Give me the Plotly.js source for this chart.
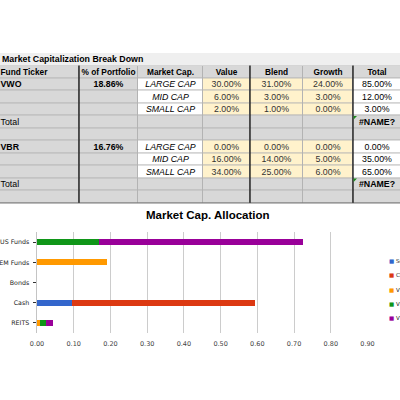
<!DOCTYPE html>
<html>
<head>
<meta charset="utf-8">
<script src="https://cdn.plot.ly/plotly-3.0.1.min.js"></script>
<style>
  html, body { margin: 0; padding: 0; overflow: hidden; background: #fff; width: 400px; height: 400px; }
  #plot { position: absolute; top: 0; }
</style>
</head>
<body>
<div id="plot"></div>
<script>
// ---------- DATA ----------
const tableTitle = "Market Capitalization Break Down";
const headers = ["Fund Ticker", "% of Portfolio", "Market Cap.", "Value", "Blend", "Growth", "Total"];
const fundTickers = ["VWO", "VBR"];
const fundShares = ["18.86%", "16.76%"];
const capSizes = ["LARGE CAP", "MID CAP", "SMALL CAP"];
const totalLabel = "Total";
const errorText = "#NAME?";
const vwoValue  = ["30.00%", "6.00%", "2.00%"];
const vwoBlend  = ["31.00%", "3.00%", "1.00%"];
const vwoGrowth = ["24.00%", "3.00%", "0.00%"];
const vwoTotal  = ["85.00%", "12.00%", "3.00%"];
const vbrValue  = ["0.00%", "16.00%", "34.00%"];
const vbrBlend  = ["0.00%", "14.00%", "25.00%"];
const vbrGrowth = ["0.00%", "5.00%", "6.00%"];
const vbrTotal  = ["0.00%", "35.00%", "65.00%"];

const chartTitle = "Market Cap. Allocation";
const categories = ["US Funds", "EM Funds", "Bonds", "Cash", "REITS"];
const seriesNames = ["Settlement", "Checking", "VWO", "VBR", "VTI"];
const seriesColors = ["#3366cc", "#dc3912", "#ff9900", "#109618", "#990099"];
const settlementVals = [0, 0, 0, 0.095, 0];
const checkingVals   = [0, 0, 0, 0.498, 0];
const vwoVals        = [0, 0.19, 0, 0, 0.008];
const vbrVals        = [0.17, 0, 0, 0, 0.016];
const vtiVals        = [0.555, 0, 0, 0, 0.019];
const xTicks = [0, 0.1, 0.2, 0.3, 0.4, 0.5, 0.6, 0.7, 0.8, 0.9];

// ---------- LAYOUT HELPERS ----------
const SHIFT = 6, W = 424, H = 400;
const div = document.getElementById('plot');
div.style.left = (-SHIFT) + 'px';
div.style.width = W + 'px';
div.style.height = H + 'px';
const px2x = sx => (sx + SHIFT) / W;
const px2y = sy => 1 - sy / H;

const GRAY = "#d8d8d8", YEL = "#fff2cc", WHITE = "#ffffff";
const colEdges = [-SHIFT, 79, 138, 203, 250, 303, 353, 401];
const colCenters = colEdges.slice(1).map((e, i) => (e + colEdges[i]) / 2);
const TABLE_TOP = 65.4, ROW_H = 12.51, N_ROWS = 11;
const TABLE_BOTTOM = TABLE_TOP + ROW_H * N_ROWS;
const rowTopPx = r => TABLE_TOP + ROW_H * r;

// ---------- TABLE CONTENT ----------
const b = s => "<b>" + s + "</b>";
const it = s => "<i>" + s + "</i>";
function fundBlock(ticker, share, val, bl, gr, tot) {
  const rows = [];
  for (let i = 0; i < 3; i++) {
    rows.push([i === 0 ? b(ticker) : "", i === 0 ? b(share) : "", it(capSizes[i]), val[i], bl[i], gr[i], tot[i]]);
  }
  rows.push([totalLabel, "", "", "", "", "", b(errorText)]);
  rows.push(["", "", "", "", "", "", ""]);
  return rows;
}
const tableRows = [
  headers.map(b),
  ...fundBlock(fundTickers[0], fundShares[0], vwoValue, vwoBlend, vwoGrowth, vwoTotal),
  ...fundBlock(fundTickers[1], fundShares[1], vbrValue, vbrBlend, vbrGrowth, vbrTotal)
];
// cell type: 0 gray, 1 white, 2 yellow
const dataRowType = [0, 0, 1, 2, 2, 2, 1];
const plainRowType = [0, 0, 0, 0, 0, 0, 0];
const cellTypes = tableRows.map((row, r) => (r > 0 && row[2] !== "") ? dataRowType : plainRowType);
const rowIdx = tableRows.map((_, r) => r);

const cellTrace = {
  type: 'heatmap', xaxis: 'x4', yaxis: 'y4',
  x: colEdges, y: rowIdx, z: cellTypes,
  zmin: 0, zmax: 2, showscale: false, hoverinfo: 'skip',
  colorscale: [[0, GRAY], [0.5, WHITE], [1, YEL]],
  xgap: 1, ygap: 1
};

const TXT_DY = 0.07;
const txtX = [], txtY = [], txt = [], txtSize = [], txtColor = [];
const lX = [], lY = [], lTxt = [], lSize = [];
tableRows.forEach((row, r) => row.forEach((t, c) => {
  if (!t) return;
  const size = r === 0 ? 8.3 : 8.8;
  if (c === 0) {
    lX.push(0.5); lY.push(r + TXT_DY); lTxt.push(t); lSize.push(size);
  } else {
    txtX.push(colCenters[c]); txtY.push(r + TXT_DY); txt.push(t); txtSize.push(size);
    txtColor.push(cellTypes[r][c] === 2 ? '#333' : '#000');
  }
}));
const FONT = 'Liberation Sans, Arial, sans-serif';
const centerText = {
  type: 'scatter', mode: 'text', xaxis: 'x4', yaxis: 'y4',
  x: txtX, y: txtY, text: txt, textposition: 'middle center',
  textfont: { family: FONT, size: txtSize, color: txtColor },
  hoverinfo: 'skip', showlegend: false, cliponaxis: false
};
const leftText = {
  type: 'scatter', mode: 'text', xaxis: 'x4', yaxis: 'y4',
  x: lX, y: lY, text: lTxt, textposition: 'middle right',
  textfont: { family: FONT, size: lSize, color: '#000' },
  hoverinfo: 'skip', showlegend: false, cliponaxis: false
};

// ---------- BAR TRACES ----------
const seriesVals = [settlementVals, checkingVals, vwoVals, vbrVals, vtiVals];
const barTraces = seriesVals.map((vals, i) => ({
  type: 'bar', orientation: 'h', name: seriesNames[i],
  x: vals, y: categories,
  marker: { color: seriesColors[i], line: { width: 0 } },
  showlegend: false, hoverinfo: 'skip', xaxis: 'x', yaxis: 'y'
}));

// ---------- SHAPES & ANNOTATIONS ----------
const shapes = [
  { type: 'rect', xref: 'paper', yref: 'paper', x0: 0, x1: 1, y0: px2y(TABLE_TOP), y1: px2y(53),
    fillcolor: '#efefef', line: { width: 0 }, layer: 'below' },
  { type: 'rect', xref: 'paper', yref: 'paper', x0: 0, x1: px2x(colEdges[7]),
    y0: px2y(TABLE_BOTTOM), y1: px2y(TABLE_TOP),
    fillcolor: '#b3b3b3', line: { width: 0 }, layer: 'below' }
];
[1, 4, 6].forEach(k => shapes.push({
  type: 'line', xref: 'paper', yref: 'paper', x0: px2x(colEdges[k]), x1: px2x(colEdges[k]),
  y0: px2y(TABLE_TOP), y1: px2y(TABLE_BOTTOM), line: { color: '#000', width: 1.2 }
}));
shapes.push({
  type: 'line', xref: 'paper', yref: 'paper', x0: 0, x1: px2x(colEdges[7]),
  y0: px2y(TABLE_BOTTOM), y1: px2y(TABLE_BOTTOM), line: { color: '#555', width: 0.8 }
});
// Excel error indicator (small green triangle) in the top-left corner of each "#NAME?" cell
tableRows.forEach((row, r) => row.forEach((t, c) => {
  if (t !== b(errorText)) return;
  const x0 = px2x(colEdges[c] + 0.6), x1 = px2x(colEdges[c] + 4);
  const y0 = px2y(rowTopPx(r) + 0.6), y1 = px2y(rowTopPx(r) + 4);
  shapes.push({ type: 'path', xref: 'paper', yref: 'paper',
    path: `M ${x0} ${y0} L ${x1} ${y0} L ${x0} ${y1} Z`,
    fillcolor: '#1a8a1a', line: { width: 0 } });
}));

const annotations = [
  { text: b(tableTitle), xref: 'paper', yref: 'paper', x: px2x(0), y: px2y(58.8),
    xanchor: 'left', yanchor: 'middle', showarrow: false,
    font: { family: FONT, size: 8.8, color: '#000' } },
  { text: b(chartTitle), xref: 'paper', yref: 'paper', x: px2x(207.5), y: px2y(215),
    xanchor: 'center', yanchor: 'middle', showarrow: false,
    font: { family: FONT, size: 11.5, color: '#000' } }
];
seriesNames.forEach((n, i) => annotations.push({
  text: '<span style="color:' + seriesColors[i] + '">■</span> ' + n,
  xref: 'paper', yref: 'paper', x: px2x(387), y: px2y(261 + i * 14.3),
  xanchor: 'left', yanchor: 'middle', showarrow: false,
  font: { family: 'DejaVu Sans, sans-serif', size: 5.5, color: '#222' }
}));

const layout = {
  width: W, height: H,
  margin: { l: 0, r: 0, t: 0, b: 0, pad: 0 },
  paper_bgcolor: '#fff', plot_bgcolor: 'rgba(0,0,0,0)',
  barmode: 'stack', bargap: 0.7, showlegend: false,
  xaxis: {
    domain: [px2x(37), px2x(367.5)], range: [0, 0.9], tickvals: xTicks, tickformat: '.2f',
    showgrid: true, gridcolor: '#cccccc', gridwidth: 1, zeroline: false, showline: false,
    ticks: '', tickfont: { family: 'DejaVu Sans, sans-serif', size: 6.5, color: '#444' },
    ticklabelstandoff: 5, fixedrange: true
  },
  yaxis: {
    domain: [px2y(333), px2y(232)], type: 'category', categoryorder: 'array', categoryarray: categories,
    range: [4.5, -0.5], showgrid: false, zeroline: false,
    showline: true, linecolor: '#c4c4c4', linewidth: 1.5,
    ticks: 'outside', ticklen: 3, tickcolor: '#333', tickwidth: 1,
    tickfont: { family: 'DejaVu Sans, sans-serif', size: 6.3, color: '#222' },
    ticklabelstandoff: 2, fixedrange: true
  },
  yaxis2: {
    overlaying: 'y', anchor: 'x', side: 'left', range: [4.5, -0.5],
    tick0: 0.5, dtick: 1, ticks: 'inside', ticklen: 2.5, tickcolor: '#333', tickwidth: 1,
    showticklabels: false, showgrid: false, zeroline: false, showline: false, fixedrange: true
  },
  yaxis3: {
    overlaying: 'y', anchor: 'x', side: 'left', range: [4.5, -0.5],
    tick0: 0.5, dtick: 1, ticks: 'outside', ticklen: 2, tickcolor: '#333', tickwidth: 1,
    showticklabels: false, showgrid: false, zeroline: false, showline: false, fixedrange: true
  },
  xaxis4: {
    domain: [0, 1], range: [-SHIFT, W - SHIFT], anchor: 'y4', visible: false, fixedrange: true
  },
  yaxis4: {
    domain: [px2y(TABLE_BOTTOM), px2y(TABLE_TOP)], range: [N_ROWS - 0.5, -0.5],
    anchor: 'x4', visible: false, fixedrange: true
  },
  shapes: shapes,
  annotations: annotations
};

Plotly.newPlot(div, [cellTrace, centerText, leftText, ...barTraces], layout,
  { displayModeBar: false, staticPlot: true });
</script>
</body>
</html>
